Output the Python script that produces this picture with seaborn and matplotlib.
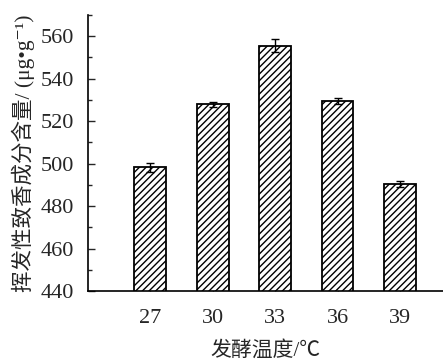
import matplotlib
matplotlib.use("Agg")
import matplotlib.pyplot as plt
import seaborn as sns
import pandas as pd
import numpy as np
from matplotlib.ticker import MultipleLocator

temps = ["27", "30", "33", "36", "39"]
content = [498.2, 527.9, 555.6, 529.7, 490.2]
errors = [2.3, 1.3, 2.9, 1.4, 1.4]

sns.set_style("ticks")
fams = ['Liberation Serif', 'Noto Sans CJK SC', 'DejaVu Serif']
plt.rcParams['font.family'] = fams
plt.rcParams['hatch.linewidth'] = 1.0
plt.rcParams['hatch.color'] = 'black'

df = pd.DataFrame({"temp": temps, "content": content})

fig = plt.figure(figsize=(4.43, 3.64), dpi=100)
ax = fig.add_axes([0.1986, 0.2005, 0.8014, 0.7583])

sns.barplot(data=df, x="temp", y="content", order=temps, color="white",
            edgecolor="black", linewidth=1.3, width=0.51, hatch="/////",
            errorbar=None, ax=ax)
for p in ax.patches:
    p.set_facecolor("white")
    p.set_hatch("/////")

ax.errorbar(x=np.arange(len(temps)), y=content, yerr=errors, fmt="none",
            ecolor="black", elinewidth=1.0, capsize=3, capthick=1.0)

ax.set_ylim(440, 570)
ax.set_xlim(-1.0, 4.69)
ax.yaxis.set_major_locator(MultipleLocator(20))
ax.yaxis.set_minor_locator(MultipleLocator(10))
ax.set_yticks([440, 460, 480, 500, 520, 540, 560])

ax.tick_params(axis="y", which="major", direction="in", length=5, width=1, labelsize=16, pad=10)
ax.tick_params(axis="y", which="minor", direction="in", length=3, width=1)
ax.tick_params(axis="x", which="major", direction="in", length=4, width=1, labelsize=16, pad=13)

for s in ["top", "right"]:
    ax.spines[s].set_visible(False)
for s in ["left", "bottom"]:
    ax.spines[s].set_linewidth(1.2)
    ax.spines[s].set_color("black")

ax.set_xlabel("发酵温度/℃", fontsize=15, labelpad=9, family=fams)
ax.set_ylabel("挥发性致香成分含量/ (μg•g⁻¹)", fontsize=15.5, labelpad=4, family=fams)

fig.savefig("out.png", dpi=100)
